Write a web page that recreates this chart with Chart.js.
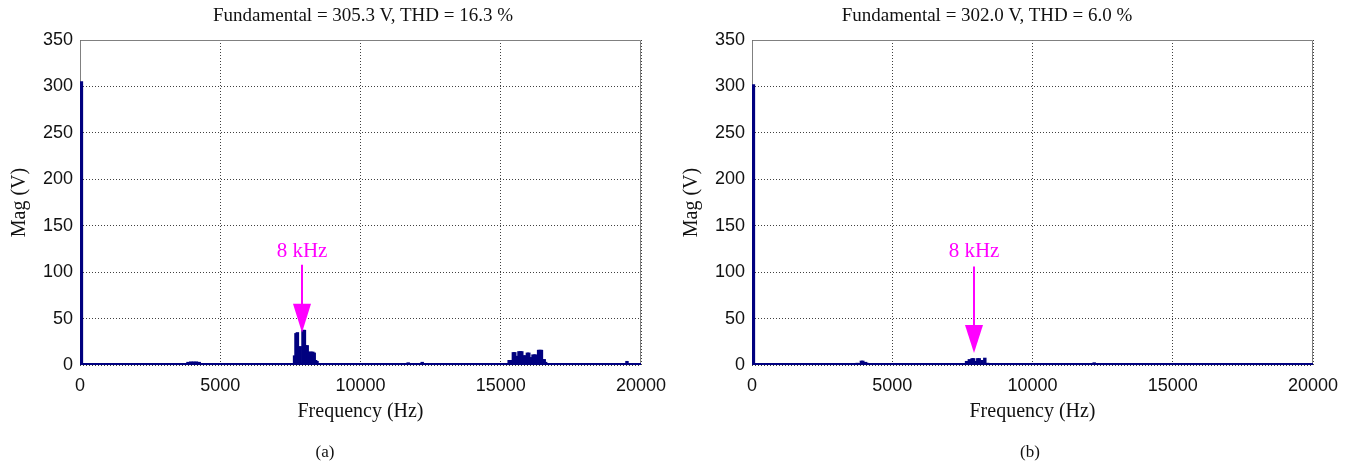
<!DOCTYPE html>
<html>
<head>
<meta charset="utf-8">
<script src="https://cdn.jsdelivr.net/npm/chart.js@4.4.1/dist/chart.umd.min.js"></script>
<style>
  html, body { margin: 0; padding: 0; background: #fff; }
  body { width: 1355px; height: 468px; position: relative; overflow: hidden; }
  canvas { position: absolute; top: 0; }
  .txt {
    position: absolute;
    font-family: "Liberation Serif", "Times New Roman", serif;
    color: #111;
    white-space: nowrap;
    transform: translate(-50%, -50%);
  }
</style>
</head>
<body>
<canvas id="chartA" width="677" height="468" style="left:0px"></canvas>
<canvas id="chartB" width="678" height="468" style="left:677px"></canvas>
<div class="txt" id="titleA" style="left:363px; top:15px; font-size:19px;"></div>
<div class="txt" id="titleB" style="left:987px; top:15px; font-size:19px;"></div>
<div class="txt" style="left:325px; top:452px; font-size:17px;">(a)</div>
<div class="txt" style="left:1030px; top:452px; font-size:17px;">(b)</div>

<script>
// ---- Panel (a): spectrum with THD = 16.3 %
const fundamentalA = 305.3;
const thdA = 16.3;
const freqA = [50,
  3850, 3950, 4050, 4150, 4250,
  7650, 7700, 7750, 7850, 7950, 8000, 8050, 8100, 8150, 8200, 8250, 8300, 8350, 8400, 8450,
  11700, 12200,
  15300, 15350, 15450, 15500, 15600, 15650, 15700, 15750, 15800, 15850, 15900, 15950, 16000,
  16050, 16100, 16150, 16200, 16250, 16350, 16400, 16450, 16500, 16550, 16600,
  19500];
const magA = [fundamentalA,
  3, 3.5, 3.5, 3.5, 3,
  10, 34, 35, 20, 37.5, 37.5, 21, 21, 14, 14, 14, 14, 13, 5, 4,
  2.5, 3,
  5, 5, 13.5, 13.5, 9.5, 14.5, 14.5, 14.5, 10, 10, 10, 13, 13,
  8, 8, 11, 11, 11, 16, 16, 16, 6, 6, 3,
  4];

// ---- Panel (b): spectrum with THD = 6.0 %
const fundamentalB = 302.0;
const thdB = 6.0;
const freqB = [50,
  3750, 3900, 3950, 4050, 4100, 4200, 4250,
  7650, 7750, 7850, 7900, 8000, 8050, 8100, 8200, 8300, 8400,
  12200];
const magB = [fundamentalB,
  2, 4.3, 4.3, 3, 2, 1.5, 1.5,
  4, 6, 7, 7, 4, 7, 7, 5, 7.5, 2,
  2.5];

// Axis ticks
const freqTicks = [0, 5000, 10000, 15000, 20000];
const magTicks = [0, 50, 100, 150, 200, 250, 300, 350];

// "8 kHz" marker: label height, shaft top, head base and tip (V)
const markerFreq = 7930;
const markerA = { labelY: 122, top: 108, headBase: 66, tip: 35 };
const markerB = { labelY: 122, top: 106, headBase: 43, tip: 13 };

const NAVY = '#00007f';
const MAGENTA = '#ff00ff';
const SANS = "'Liberation Sans', Arial, sans-serif";
const SERIF = "'Liberation Serif', 'Times New Roman', serif";

document.getElementById('titleA').textContent =
  `Fundamental = ${fundamentalA.toFixed(1)} V, THD = ${thdA.toFixed(1)} %`;
document.getElementById('titleB').textContent =
  `Fundamental = ${fundamentalB.toFixed(1)} V, THD = ${thdB.toFixed(1)} %`;

// Plot frame: grey box, navy baseline drawn over the bars' foot
const framePlugin = {
  id: 'frameLines',
  beforeDatasetsDraw(chart) {
    const { ctx, chartArea: a } = chart;
    ctx.save();
    ctx.strokeStyle = '#808080';
    ctx.lineWidth = 1;
    ctx.beginPath();
    ctx.moveTo(a.left + 0.5, a.bottom);
    ctx.lineTo(a.left + 0.5, a.top + 0.5);
    ctx.lineTo(a.right - 0.5, a.top + 0.5);
    ctx.lineTo(a.right - 0.5, a.bottom);
    ctx.stroke();
    ctx.restore();
  },
  afterDatasetsDraw(chart) {
    const { ctx, chartArea: a } = chart;
    ctx.save();
    ctx.strokeStyle = NAVY;
    ctx.lineWidth = 2;
    ctx.beginPath();
    ctx.moveTo(a.left, a.bottom - 1);
    ctx.lineTo(a.right, a.bottom - 1);
    ctx.stroke();
    ctx.restore();
  }
};

// Magenta arrow with its "8 kHz" label
const markerPlugin = {
  id: 'freqMarker',
  afterDatasetsDraw(chart, args, opts) {
    const { ctx } = chart;
    const xs = chart.scales.x, ys = chart.scales.y;
    const x = Math.round(xs.getPixelForValue(opts.freq));
    const yTop = ys.getPixelForValue(opts.top);
    const yBase = ys.getPixelForValue(opts.headBase);
    const yTip = ys.getPixelForValue(opts.tip);
    const yLabel = ys.getPixelForValue(opts.labelY);
    ctx.save();
    ctx.strokeStyle = MAGENTA;
    ctx.fillStyle = MAGENTA;
    ctx.lineWidth = 2;
    ctx.beginPath();
    ctx.moveTo(x, yTop);
    ctx.lineTo(x, yBase + 1);
    ctx.stroke();
    ctx.beginPath();
    ctx.moveTo(x - 9, yBase);
    ctx.lineTo(x + 9, yBase);
    ctx.lineTo(x, yTip);
    ctx.closePath();
    ctx.fill();
    ctx.font = `21px ${SERIF}`;
    ctx.textAlign = 'center';
    ctx.textBaseline = 'middle';
    ctx.fillText(opts.text, x, yLabel);
    ctx.restore();
  }
};

function makeChart(id, freqs, mags, marker, geo) {
  const points = freqs.map((f, i) => ({ x: f, y: mags[i] }));
  return new Chart(document.getElementById(id), {
    type: 'bar',
    data: {
      datasets: [{
        data: points,
        backgroundColor: NAVY,
        borderWidth: 0,
        barThickness: 2.8
      }]
    },
    options: {
      responsive: false,
      animation: false,
      devicePixelRatio: 1,
      events: [],
      layout: { padding: { top: 40, right: geo.padRight, bottom: 0, left: 0 } },
      plugins: {
        legend: { display: false },
        tooltip: { enabled: false },
        freqMarker: { freq: markerFreq, text: '8 kHz', ...marker }
      },
      scales: {
        x: {
          type: 'linear',
          min: freqTicks[0],
          max: freqTicks[freqTicks.length - 1],
          offset: false,
          afterBuildTicks(s) { s.ticks = freqTicks.map(v => ({ value: v })); },
          ticks: {
            font: { family: SANS, size: 18 },
            color: '#111',
            padding: 10,
            maxRotation: 0,
            autoSkip: false,
            callback: v => String(v)
          },
          grid: { color: '#404040', lineWidth: 1, drawTicks: false, offset: false },
          border: { display: false, dash: [1, 2] },
          title: {
            display: true,
            text: 'Frequency (Hz)',
            font: { family: SERIF, size: 20 },
            color: '#111',
            padding: { top: 0, bottom: 44 }
          },
          afterFit(s) { s.height = 103; }
        },
        y: {
          min: magTicks[0],
          max: magTicks[magTicks.length - 1],
          afterBuildTicks(s) { s.ticks = magTicks.map(v => ({ value: v })); },
          ticks: {
            font: { family: SANS, size: 18 },
            color: '#111',
            padding: 7,
            callback: v => String(v)
          },
          grid: { color: '#404040', lineWidth: 1, drawTicks: false },
          border: { display: false, dash: [1, 2] },
          title: {
            display: true,
            text: 'Mag (V)',
            font: { family: SERIF, size: 20 },
            color: '#111',
            padding: { top: geo.yTitlePad, bottom: 0 }
          },
          afterFit(s) { s.width = geo.yWidth; }
        }
      }
    },
    plugins: [framePlugin, markerPlugin]
  });
}

makeChart('chartA', freqA, magA, markerA, { padRight: 36, yWidth: 80, yTitlePad: 8 });
makeChart('chartB', freqB, magB, markerB, { padRight: 42, yWidth: 75, yTitlePad: 3 });
</script>
</body>
</html>
